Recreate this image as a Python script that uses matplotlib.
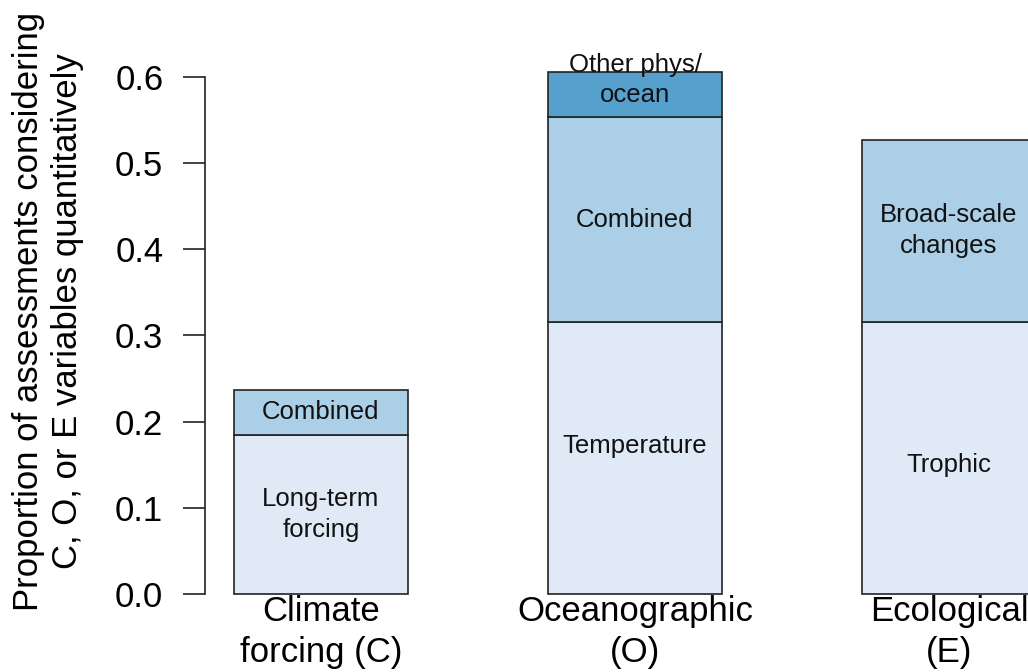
import matplotlib
matplotlib.use("Agg")
import matplotlib.pyplot as plt
import matplotlib.transforms as mtransforms
import numpy as np

plt.rcParams["font.family"] = ["Liberation Sans", "DejaVu Sans"]

# ---------------------------------------------------------------------------
# Data (stacked proportions, bottom segment first)
# ---------------------------------------------------------------------------
categories = ["Climate\nforcing (C)", "Oceanographic\n(O)", "Ecological\n(E)"]

climate_values = [0.185, 0.052]
climate_labels = ["Long-term\nforcing", "Combined"]

ocean_values = [0.316, 0.237, 0.053]
ocean_labels = ["Temperature", "Combined", "Other phys/\nocean"]

eco_values = [0.316, 0.211]
eco_labels = ["Trophic", "Broad-scale\nchanges"]

segment_colors = ["#dfeaf6", "#abcfe6", "#56a0cd"]
y_ticks = [0.0, 0.1, 0.2, 0.3, 0.4, 0.5, 0.6]

stacks = [
    (climate_values, climate_labels),
    (ocean_values, ocean_labels),
    (eco_values, eco_labels),
]

# ---------------------------------------------------------------------------
# Figure
# ---------------------------------------------------------------------------
W, H = 1028, 672
fig = plt.figure(figsize=(W / 100, H / 100), dpi=100)
ax = fig.add_axes([205 / W, 72 / H, (W - 205) / W, (600 - 10) / H])

bar_width = 0.554
positions = np.arange(len(categories))

# small vertical nudges so labels sit where the original puts them
nudge = {"Temperature": 0.014, "Other phys/\nocean": 0.017,
         "Long-term\nforcing": 0.0, "Trophic": -0.008}

for pos, (vals, labs) in zip(positions, stacks):
    bottom = 0.0
    for k, (v, lab) in enumerate(zip(vals, labs)):
        ax.bar(pos, v, bottom=bottom, width=bar_width,
               color=segment_colors[k], edgecolor="#222222", linewidth=1.2)
        mid = bottom + v / 2 + nudge.get(lab, 0.0)
        ax.text(pos, mid, lab, ha="center", va="center", fontsize=18.5,
                linespacing=1.35, color="#111111")
        bottom += v

ax.set_xlim(-0.3694, 2.2516)
ax.set_ylim(-0.00696, 0.6777)

# R style axis: spine only across the tick range
for side in ("top", "right", "bottom"):
    ax.spines[side].set_visible(False)
ax.spines["left"].set_bounds(0, 0.6)
ax.spines["left"].set_linewidth(1.2)
ax.spines["left"].set_color("#222222")
ax.set_yticks(y_ticks)
ax.set_yticklabels([f"{t:.1f}" for t in y_ticks])
ax.tick_params(axis="y", length=16, width=1.2, color="#222222",
               pad=14, labelsize=25)
ax.set_xticks([])

# category labels under the bars
offset = mtransforms.offset_copy(ax.transData, fig=fig, x=0, y=-1, units="points")
for pos, cat in zip(positions, categories):
    ax.text(pos, 0, cat, ha="center", va="top", fontsize=25,
            linespacing=1.3, transform=offset, clip_on=False)

fig.text(48 / W, 1 - 311 / H,
         "Proportion of assessments considering\nC, O, or E variables quantitatively",
         rotation=90, ha="center", va="center", fontsize=25, linespacing=1.25)

fig.savefig("out.png", dpi=100)
